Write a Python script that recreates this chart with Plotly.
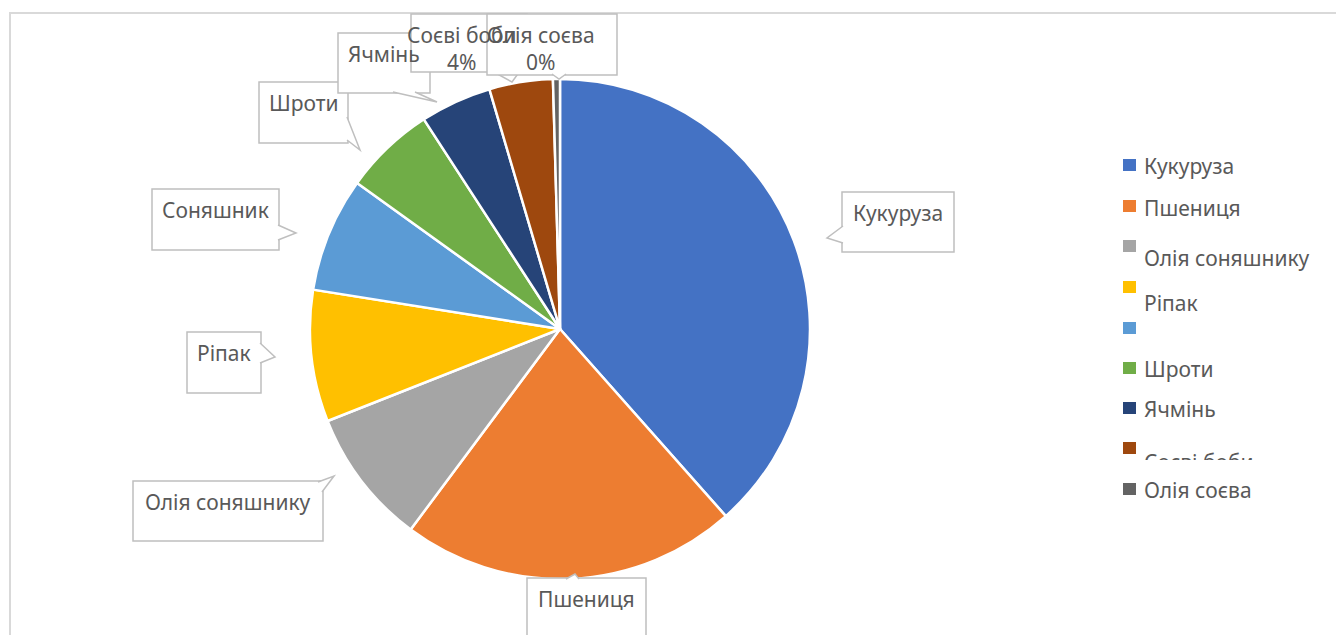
import plotly.graph_objects as go

# ---- data ----
categories = ["Кукуруза", "Пшениця", "Олія соняшнику", "Ріпак", "Соняшник",
              "Шроти", "Ячмінь", "Соєві боби", "Олія соєва"]
values = [38.4, 21.7, 8.8, 8.5, 7.4, 5.9, 4.6, 4.1, 0.45]
colors = ["#4472C4", "#ED7D31", "#A5A5A5", "#FFC000", "#5B9BD5",
          "#70AD47", "#264478", "#9E480E", "#636363"]
show_pct = ["Соєві боби", "Олія соєва"]

W, H = 1344, 635
OFF = 8  # page body margin
FONT = "Noto Sans"
TXT = "#595959"
BORDER = "#BFBFBF"
FS = 21


def px(x, y):
    return (x - OFF) / W, 1 - (y - OFF) / H


# ---- layout (pixel geometry) ----
cx, cy, r = 560, 329, 250
# callout boxes: left, top, right, bottom
boxes = {
    "Кукуруза": (842, 192, 954, 252),
    "Пшениця": (527, 578, 646, 650),
    "Олія соняшнику": (133, 481, 323, 541),
    "Ріпак": (187, 332, 261, 393),
    "Соняшник": (152, 189, 279, 250),
    "Шроти": (259, 82, 348, 143),
    "Ячмінь": (338, 33, 430, 93),
    "Соєві боби": (411, 14, 527, 72),
    "Олія соєва": (487, 14, 617, 75),
}
# text center x overrides (where text is not centred in its box)
text_cx = {"Соєві боби": 462, "Олія соєва": 541}
pointers = {
    "Кукуруза": [(843, 226), (827, 238), (843, 243)],
    "Пшениця": [(566, 579), (575, 574), (579, 579)],
    "Олія соняшнику": [(318, 482), (334, 476), (322, 492)],
    "Ріпак": [(260, 343), (275, 357), (260, 363)],
    "Соняшник": [(278, 225), (296, 233), (278, 240)],
    "Шроти": [(347, 117), (360, 150), (347, 140)],
    "Ячмінь": [(393, 92), (437, 102), (415, 92)],
    "Соєві боби": [(492, 71), (512, 82), (520, 71)],
    "Олія соєва": [(552, 74), (559, 79), (566, 74)],
}
# legend rows: marker center y, text center y
legend_rows = [(165, 166), (206, 208), (246, 258), (287, 303), (328, 328),
               (368, 369), (408, 409), (448, 462), (489, 490)]

fig = go.Figure()

x0, y1 = px(cx - r, cy - r)
x1, y0 = px(cx + r, cy + r)
fig.add_trace(go.Pie(
    labels=categories, values=values, sort=False, direction="clockwise",
    rotation=0, textinfo="none", showlegend=False,
    marker=dict(colors=colors, line=dict(color="white", width=2.5)),
    domain=dict(x=[x0, x1], y=[y0, y1]),
    hovertemplate="%{label}: %{percent}<extra></extra>",
))

shapes = []
annotations = []

# chart frame
fx0, fy1 = px(10, 13)
fx1, fy0 = px(1339, 700)
shapes.append(dict(type="rect", xref="paper", yref="paper", x0=fx0, x1=fx1,
                   y0=fy0, y1=fy1, line=dict(color="#D9D9D9", width=2),
                   layer="below"))

total = sum(values)
for cat, v in zip(categories, values):
    l, t, rr, b = boxes[cat]
    bx0, by1 = px(l, t)
    bx1, by0 = px(rr, b)
    shapes.append(dict(type="rect", xref="paper", yref="paper",
                       x0=bx0, x1=bx1, y0=by0, y1=by1, fillcolor="white",
                       line=dict(color=BORDER, width=1.5), layer="above"))
    pts = pointers[cat]
    path = "M " + " L ".join(
        "{},{}".format(*px(p[0], p[1])) for p in pts)
    shapes.append(dict(type="path", xref="paper", yref="paper", path=path,
                       fillcolor="white", line=dict(color=BORDER, width=1.5),
                       layer="above"))

# label texts drawn after all boxes (they overlap each other like in the source)
for cat, v in zip(categories, values):
    l, t, rr, b = boxes[cat]
    if cat in show_pct:
        text = f"{cat}<br>{round(v / total * 100)}%"
    else:
        text = cat
    tx = text_cx.get(cat, (l + rr) / 2)
    ax, ay = px(tx, t + 5)
    annotations.append(dict(
        xref="paper", yref="paper", x=ax, y=ay, xanchor="center",
        yanchor="top", showarrow=False, text=text, align="center",
        font=dict(family=FONT, size=FS, color=TXT),
    ))

# legend
for cat, col, (my, ty) in zip(categories, colors, legend_rows):
    mx0, my1 = px(1123, my - 6)
    mx1, my0 = px(1136, my + 6)
    shapes.append(dict(type="rect", xref="paper", yref="paper", x0=mx0, x1=mx1,
                       y0=my0, y1=my1, fillcolor=col, line=dict(width=0)))
    label = "" if cat == "Соняшник" else cat
    if label:
        lx, ly = px(1142, ty)
        annotations.append(dict(
            xref="paper", yref="paper", x=lx, y=ly, xanchor="left",
            yanchor="middle", showarrow=False, text=label,
            font=dict(family=FONT, size=FS, color=TXT)))

# clipped legend entry cover
cvx, cvy = px(1140, 460)
annotations.append(dict(
    xref="paper", yref="paper", x=cvx, y=cvy, xanchor="left", yanchor="top",
    showarrow=False, text=" ", width=170, height=14, bgcolor="white",
    borderpad=0, borderwidth=0, font=dict(size=8)))

fig.update_layout(
    width=W, height=H, margin=dict(l=0, r=0, t=0, b=0),
    paper_bgcolor="white", plot_bgcolor="white",
    shapes=shapes, annotations=annotations, showlegend=False,
)

fig.write_html("out.html")
